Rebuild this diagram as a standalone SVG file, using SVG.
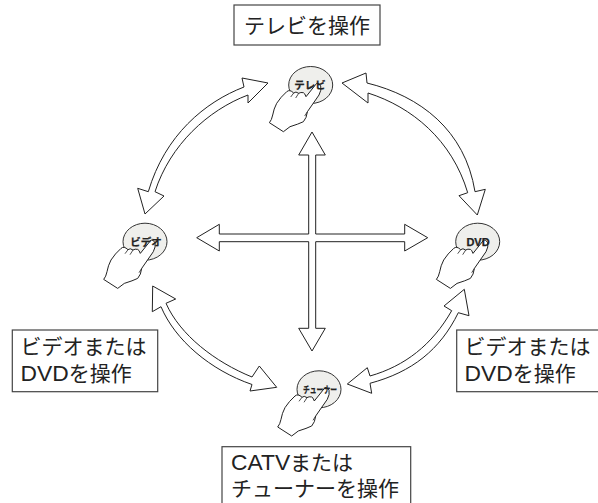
<svg xmlns="http://www.w3.org/2000/svg" width="598" height="503" viewBox="0 0 598 503">
<style>
text{font-family:"Liberation Sans","Noto Sans CJK JP",sans-serif;fill:#222}
.lab{font-size:21px}
.lat{font-size:22.8px}
.box{fill:#fff;stroke:#444;stroke-width:1.2}
.arrow{fill:#fff;stroke:#222;stroke-width:1;stroke-linejoin:miter}
.btn{fill:#efefec;stroke:#333;stroke-width:1}
.cap{font-size:10.5px;font-weight:700;text-anchor:middle;stroke:#222;stroke-width:.25}
.hand{fill:#fff;stroke:#222;stroke-width:1;stroke-linejoin:round}
.crease{fill:none;stroke:#222;stroke-width:.8}
</style>
<defs>
<g id="hand">
<path class="hand" d="M-41.3,37.7L-27.3,46.7L-20.7,41.7Q-12,39 -7.3,36.7Q-4,33 -3.3,26.7L8.3,10Q11,5 10,1Q8,-2.5 6,-1.7L-4.7,11.7Q-6,8 -7.3,7.7Q-10,7 -12,8.3Q-15,6 -17,8Q-21,4 -24,6.7Q-30,12 -34,18.3Q-37,24 -38,30Q-39,35 -41.3,37.7Z"/>
<path class="crease" d="M-12,8.3L-15,13M-17,8L-20,12M-3.3,26.7L-6,31"/>
</g>
</defs>
<g id="connectors">
<path class="arrow" d="M268,83L242,78L244,87C205,102 165,135 148.3,191.7L137.7,188.3L145,214L164,196L155,191.7C170,145 208,110 248,95L248,103Z"/>
<path class="arrow" d="M342,83L366,73L367,83C420,96 465,130 475,191.7L485.3,189.3L477.3,215L459,195.7L467.7,192.7C452,140 412,107 368,93L368,103Z"/>
<path class="arrow" d="M152.7,286L175.7,299L166,303.3C180,335 215,362 252,377L259.3,366L276.7,387.3L250,391L252,384.5C210,370 175,340 161,306.7L152.3,311.7Z"/>
<path class="arrow" d="M464.3,289.3L444,306L451.7,310.7C432,345 405,366 370,376L367.3,367.7L347.3,384L371.7,393.3L370,383.3C412,372 440,350 458.3,312.7L469,315.7Z"/>
<path class="arrow" d="M312,132L325.3,155H315.7V234H404.7V224.3L427.7,237.7L404.7,251V241.7H315.7V328.3H325.3L312,351L298.7,328.3H308.7V241.7H219.3V251L196.7,237.7L219.3,224.3V234H308.7V155H298.7Z"/>
</g>
<g id="node-tv">
<ellipse class="btn" cx="310.7" cy="85" rx="22" ry="18.5"/>
<use href="#hand" x="310.7" y="85"/>
<text class="cap" x="310" y="88.5">テレビ</text>
</g>
<g id="node-video">
<ellipse class="btn" cx="145" cy="241.7" rx="22" ry="18.5"/>
<use href="#hand" x="145" y="241.7"/>
<text class="cap" x="146" y="245.5">ビデオ</text>
</g>
<g id="node-dvd">
<ellipse class="btn" cx="477.7" cy="241.7" rx="22" ry="18.5"/>
<use href="#hand" x="477.7" y="241.7"/>
<text class="cap" x="478" y="245.5" style="font-size:11px">DVD</text>
</g>
<g id="node-tuner">
<ellipse class="btn" cx="319" cy="389.3" rx="22" ry="18.5"/>
<use href="#hand" x="319" y="389.3"/>
<text class="cap" x="320" y="393" style="font-size:9.5px" textLength="34" lengthAdjust="spacingAndGlyphs">チューナー</text>
</g>
<g id="label-tv">
<rect class="box" x="234" y="5" width="146" height="40"/>
<text class="lab" x="244" y="33">テレビを操作</text>
</g>
<g id="label-left">
<rect class="box" x="12.3" y="330" width="145.4" height="61.7"/>
<text class="lab" x="20.5" y="354">ビデオまたは</text>
<text class="lab" x="20.5" y="381"><tspan class="lat">DVD</tspan>を操作</text>
</g>
<g id="label-right">
<rect class="box" x="456.7" y="330" width="145" height="61.7"/>
<text class="lab" x="464.5" y="354">ビデオまたは</text>
<text class="lab" x="464.5" y="381"><tspan class="lat">DVD</tspan>を操作</text>
</g>
<g id="label-bottom">
<rect class="box" x="222" y="446.7" width="188.7" height="60"/>
<text class="lab" x="231" y="470"><tspan class="lat">CATV</tspan>または</text>
<text class="lab" x="231" y="496">チューナーを操作</text>
</g>
</svg>
